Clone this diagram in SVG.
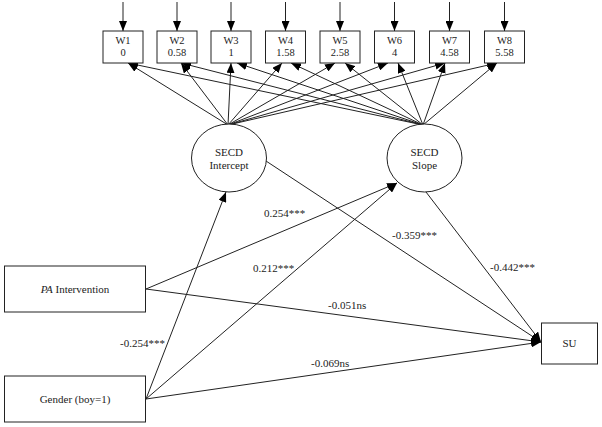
<svg xmlns="http://www.w3.org/2000/svg" width="602" height="427" viewBox="0 0 602 427" font-family="'Liberation Serif', 'Times New Roman', 'DejaVu Serif', serif">
<defs>
<marker id="ah" viewBox="0 0 10 8" refX="10" refY="4" markerWidth="10" markerHeight="8" markerUnits="userSpaceOnUse" orient="auto">
<path d="M0,0 L10,4 L0,8 Z" fill="#000"/>
</marker>
<style>
text{font-family:'Liberation Serif','Times New Roman','DejaVu Serif',serif;font-size:11px;fill:#222}
.w text{font-size:10.5px}
.box{fill:#fff;stroke:#222;stroke-width:1}
.c{text-anchor:middle}
.e line{stroke:#222;stroke-width:1;marker-end:url(#ah)}
</style>
</defs>
<rect width="602" height="427" fill="#fff"/>
<g id="connectors" class="e">
<line x1="123" y1="2" x2="123" y2="31"/>
<line x1="177" y1="2" x2="177" y2="31"/>
<line x1="231" y1="2" x2="231" y2="31"/>
<line x1="285.5" y1="2" x2="285.5" y2="31"/>
<line x1="340" y1="2" x2="340" y2="31"/>
<line x1="394.5" y1="2" x2="394.5" y2="31"/>
<line x1="449.5" y1="2" x2="449.5" y2="31"/>
<line x1="504.5" y1="2" x2="504.5" y2="31"/>
<line x1="228" y1="125" x2="128" y2="63"/>
<line x1="228" y1="125" x2="181" y2="63"/>
<line x1="228" y1="125" x2="231" y2="63"/>
<line x1="228" y1="125" x2="282" y2="63"/>
<line x1="228" y1="125" x2="335" y2="63"/>
<line x1="228" y1="125" x2="388" y2="63"/>
<line x1="228" y1="125" x2="445" y2="63"/>
<line x1="228" y1="125" x2="497" y2="63"/>
<line x1="423" y1="125" x2="128" y2="63"/>
<line x1="423" y1="125" x2="181" y2="63"/>
<line x1="423" y1="125" x2="237" y2="63"/>
<line x1="423" y1="125" x2="291" y2="63"/>
<line x1="423" y1="125" x2="345" y2="63"/>
<line x1="423" y1="125" x2="398" y2="63"/>
<line x1="423" y1="125" x2="445" y2="63"/>
<line x1="423" y1="125" x2="497" y2="63"/>
<line x1="266" y1="161" x2="541" y2="342"/>
<line x1="426" y1="192" x2="541" y2="342"/>
<line x1="146" y1="289" x2="397" y2="183"/>
<line x1="146" y1="399" x2="397" y2="183"/>
<line x1="146" y1="399" x2="226" y2="192"/>
<line x1="146" y1="289" x2="541" y2="342"/>
<line x1="146" y1="399" x2="541" y2="342"/>
</g>
<g id="W1" class="w"><rect class="box" x="103" y="31" width="40" height="32"/><text class="c" x="123" y="44">W1</text><text class="c" x="123" y="56">0</text></g>
<g id="W2" class="w"><rect class="box" x="157" y="31" width="40" height="32"/><text class="c" x="177" y="44">W2</text><text class="c" x="177" y="56">0.58</text></g>
<g id="W3" class="w"><rect class="box" x="211" y="31" width="40" height="32"/><text class="c" x="231" y="44">W3</text><text class="c" x="231" y="56">1</text></g>
<g id="W4" class="w"><rect class="box" x="265.5" y="31" width="40" height="32"/><text class="c" x="285.5" y="44">W4</text><text class="c" x="285.5" y="56">1.58</text></g>
<g id="W5" class="w"><rect class="box" x="320" y="31" width="40" height="32"/><text class="c" x="340" y="44">W5</text><text class="c" x="340" y="56">2.58</text></g>
<g id="W6" class="w"><rect class="box" x="374.5" y="31" width="40" height="32"/><text class="c" x="394.5" y="44">W6</text><text class="c" x="394.5" y="56">4</text></g>
<g id="W7" class="w"><rect class="box" x="429.5" y="31" width="40" height="32"/><text class="c" x="449.5" y="44">W7</text><text class="c" x="449.5" y="56">4.58</text></g>
<g id="W8" class="w"><rect class="box" x="484.5" y="31" width="40" height="32"/><text class="c" x="504.5" y="44">W8</text><text class="c" x="504.5" y="56">5.58</text></g>
<g id="intercept"><ellipse class="box" cx="229" cy="158" rx="37.5" ry="34"/><text class="c" x="229" y="156">SECD</text><text class="c" x="229" y="169">Intercept</text></g>
<g id="slope"><ellipse class="box" cx="424.5" cy="158" rx="37.5" ry="34"/><text class="c" x="424.5" y="156">SECD</text><text class="c" x="424.5" y="169">Slope</text></g>
<g id="pa"><rect class="box" x="4.5" y="266" width="141" height="46"/><text class="c" x="75" y="293"><tspan font-style="italic">PA</tspan> Intervention</text></g>
<g id="gender"><rect class="box" x="4.5" y="376" width="141" height="46"/><text class="c" x="75" y="403">Gender (boy=1)</text></g>
<g id="su"><rect class="box" x="541.5" y="323" width="56" height="41"/><text class="c" x="569.5" y="347">SU</text></g>
<g id="labels">
<text x="264" y="217">0.254***</text>
<text x="253" y="272">0.212***</text>
<text x="392" y="239">-0.359***</text>
<text x="120" y="347">-0.254***</text>
<text x="490" y="271">-0.442***</text>
<text x="328" y="309">-0.051ns</text>
<text x="311" y="367">-0.069ns</text>
</g>
</svg>
